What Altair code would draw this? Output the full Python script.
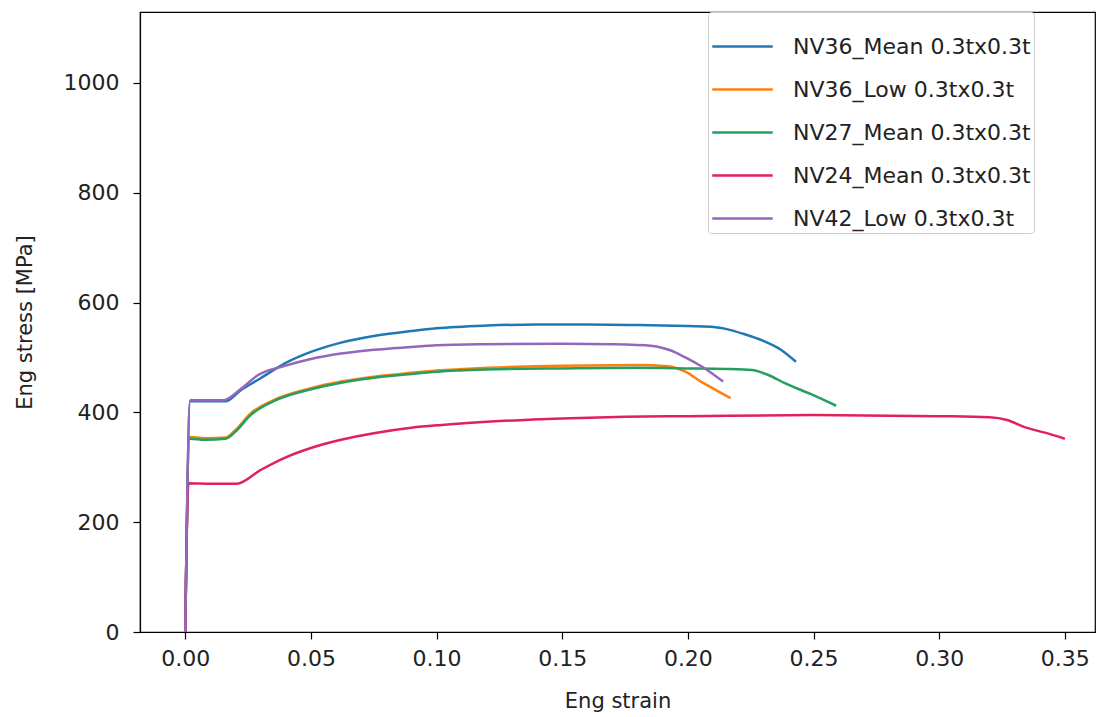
import altair as alt
import pandas as pd

series_names = [
    "NV36_Mean 0.3tx0.3t",
    "NV36_Low 0.3tx0.3t",
    "NV27_Mean 0.3tx0.3t",
    "NV24_Mean 0.3tx0.3t",
    "NV42_Low 0.3tx0.3t",
]
series_colors = ["#1f77b4", "#ff7f0e", "#239f5f", "#e0215a", "#9467bd"]

nv36_mean_strain = [0, 0.002, 0.016, 0.022, 0.03, 0.04, 0.05, 0.062, 0.075, 0.09, 0.10, 0.12, 0.14, 0.16, 0.18, 0.20, 0.209, 0.215, 0.222, 0.23, 0.237, 0.243]
nv36_mean_stress = [0, 420, 420, 440, 462, 490, 510, 527, 539, 548, 553, 558, 560, 560, 559, 557, 556, 552, 543, 530, 514, 492]

nv36_low_strain = [0, 0.0017, 0.008, 0.016, 0.02, 0.026, 0.035, 0.05, 0.062, 0.075, 0.09, 0.10, 0.12, 0.15, 0.18, 0.192, 0.199, 0.2055, 0.211, 0.217]
nv36_low_stress = [0, 355, 353, 354, 368, 398, 422, 444, 456, 465, 472, 476, 481, 485, 486, 484, 474, 455, 441, 426]

nv27_mean_strain = [0, 0.0017, 0.008, 0.016, 0.02, 0.026, 0.035, 0.05, 0.062, 0.075, 0.09, 0.10, 0.12, 0.15, 0.18, 0.20, 0.215, 0.2255, 0.232, 0.2386, 0.249, 0.259]
nv27_mean_stress = [0, 352, 350, 352, 365, 395, 420, 442, 454, 463, 470, 474, 478, 480, 481, 480, 479, 477, 468, 453, 433, 412]

nv24_mean_strain = [0, 0.0013, 0.01, 0.0205, 0.03, 0.04, 0.05, 0.062, 0.075, 0.09, 0.102, 0.125, 0.15, 0.175, 0.20, 0.25, 0.30, 0.32, 0.327, 0.334, 0.342, 0.35]
nv24_mean_stress = [0, 271, 270, 270, 295, 318, 335, 350, 362, 372, 377, 384, 389, 392, 393, 395, 393, 391, 386, 373, 363, 352]

nv42_low_strain = [0, 0.002, 0.015, 0.022, 0.029, 0.04, 0.05, 0.062, 0.075, 0.09, 0.10, 0.12, 0.15, 0.17, 0.186, 0.193, 0.199, 0.206, 0.214]
nv42_low_stress = [0, 422, 422, 442, 468, 485, 497, 507, 514, 519, 522, 524, 525, 524, 521, 513, 500, 482, 456]

x_ticks = [0.0, 0.05, 0.10, 0.15, 0.20, 0.25, 0.30, 0.35]
y_ticks = [0, 200, 400, 600, 800, 1000]

all_series = [
    (nv36_mean_strain, nv36_mean_stress),
    (nv36_low_strain, nv36_low_stress),
    (nv27_mean_strain, nv27_mean_stress),
    (nv24_mean_strain, nv24_mean_stress),
    (nv42_low_strain, nv42_low_stress),
]

rows = []
for i, (name, (xs, ys)) in enumerate(zip(series_names, all_series)):
    for j, (x, y) in enumerate(zip(xs, ys)):
        rows.append({"series": name, "strain": x, "stress": y, "idx": j, "k": i})
df = pd.DataFrame(rows)

FONT = "DejaVu Sans"

chart = (
    alt.Chart(df)
    .mark_line(strokeWidth=2.5, interpolate="monotone", clip=True)
    .encode(
        x=alt.X(
            "strain:Q",
            scale=alt.Scale(domain=[-0.018, 0.362], nice=False, zero=False),
            axis=alt.Axis(
                values=x_ticks, format=".2f", title="Eng strain", grid=False,
                tickSize=7, labelPadding=9, titlePadding=21,
            ),
        ),
        y=alt.Y(
            "stress:Q",
            scale=alt.Scale(domain=[0, 1129], nice=False),
            axis=alt.Axis(
                values=y_ticks, format="d", title="Eng stress [MPa]", grid=False,
                tickSize=7, labelPadding=14, titlePadding=28,
            ),
        ),
        color=alt.Color(
            "series:N",
            scale=alt.Scale(domain=series_names, range=series_colors),
            legend=alt.Legend(
                title=None, orient="none", legendX=568, legendY=0,
                symbolType="stroke", symbolSize=3660, symbolStrokeWidth=2.5,
                labelFontSize=22, labelFont=FONT, labelColor="#222", labelLimit=0,
                fillColor="white", strokeColor="#cccccc", cornerRadius=3,
                padding=3, rowPadding=0, labelOffset=19,
            ),
        ),
        order=alt.Order("idx:Q"),
        detail="series:N",
    )
    .properties(width=955, height=620)
    .configure(
        autosize=alt.AutoSizeParams(type="none"),
        padding={"left": 140, "top": 12, "right": 4, "bottom": 85},
        background="white",
    )
    .configure_view(stroke="black", strokeWidth=1.2)
    .configure_axis(
        labelFont=FONT, titleFont=FONT, labelFontSize=22, titleFontSize=21,
        labelColor="#222", titleColor="#222", titleFontWeight="normal",
        domainColor="black", tickColor="black", domainWidth=1.2, tickWidth=1.2,
    )
)

chart.save("out.html", embed_options={"renderer": "svg", "actions": False})
